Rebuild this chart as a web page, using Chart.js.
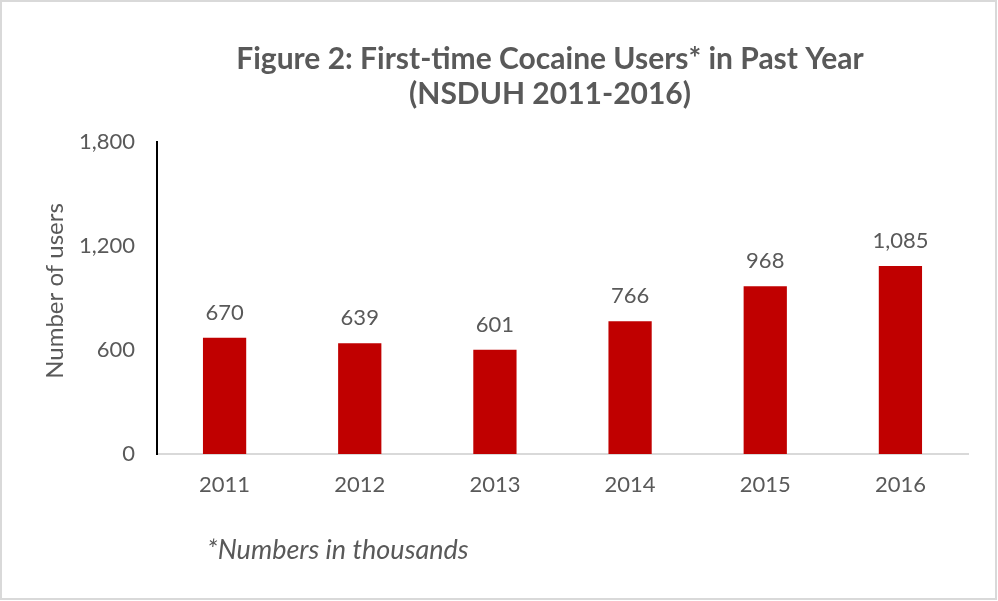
<!DOCTYPE html>
<html>
<head>
<meta charset="utf-8">
<script src="https://cdn.jsdelivr.net/npm/chart.js@4"></script>
<style>
  html, body { margin: 0; padding: 0; background: #ffffff; }
  #wrap { width: 998px; height: 601px; position: relative; }
</style>
</head>
<body>
<div id="wrap"><canvas id="c" width="998" height="601"></canvas></div>
<script>
// Survey years and first-time cocaine users (thousands)
const years = ['2011', '2012', '2013', '2014', '2015', '2016'];
const users = [670, 639, 601, 766, 968, 1085];
const yTicks = [0, 600, 1200, 1800];

const titleLines = ['Figure 2: First-time Cocaine Users* in Past Year', '(NSDUH 2011-2016)'];
const yTitle = 'Number of users';
const footnote = '*Numbers in thousands';

const GRAY = '#595959';
const BAR = '#C00000';
const FONT = 'Lato, "Open Sans", sans-serif';

const fmt = v => v.toLocaleString('en-US');

const decor = {
  id: 'decor',
  beforeDraw(chart) {
    const ctx = chart.ctx;
    ctx.save();
    ctx.fillStyle = '#ffffff';
    ctx.fillRect(0, 0, chart.width, chart.height);
    ctx.strokeStyle = '#d9d9d9';
    ctx.lineWidth = 2;
    ctx.strokeRect(1, 1, chart.width - 3, chart.height - 3);
    ctx.restore();
  },
  afterDraw(chart) {
    const ctx = chart.ctx;
    ctx.save();
    // Title, two lines
    ctx.fillStyle = GRAY;
    ctx.textAlign = 'center';
    ctx.textBaseline = 'alphabetic';
    ctx.font = 'bold 30px ' + FONT;
    ctx.fillText(titleLines[0], 550, 69);
    ctx.fillText(titleLines[1], 550, 104);

    // Vertical axis title
    ctx.save();
    ctx.translate(63, 291);
    ctx.rotate(-Math.PI / 2);
    ctx.font = '24px ' + FONT;
    ctx.textAlign = 'center';
    ctx.textBaseline = 'alphabetic';
    ctx.fillText(yTitle, 0, 0);
    ctx.restore();

    // Footnote
    ctx.font = 'italic 27px ' + FONT;
    ctx.textAlign = 'left';
    ctx.fillText(footnote, 207, 559);

    // Value labels above bars
    const meta = chart.getDatasetMeta(0);
    ctx.font = '22px ' + FONT;
    ctx.fillStyle = GRAY;
    ctx.textAlign = 'center';
    meta.data.forEach((bar, i) => {
      const v = chart.data.datasets[0].data[i];
      ctx.fillText(fmt(v), bar.x, bar.y - 18);
    });
    ctx.restore();
  }
};

new Chart(document.getElementById('c'), {
  type: 'bar',
  data: {
    labels: years,
    datasets: [{
      data: users,
      backgroundColor: BAR,
      borderWidth: 0,
      categoryPercentage: 1,
      barPercentage: 0.32
    }]
  },
  options: {
    responsive: false,
    animation: false,
    devicePixelRatio: 1,
    layout: { padding: { top: 142, right: 30, left: 40, bottom: 47 } },
    plugins: {
      legend: { display: false },
      title: { display: false },
      tooltip: { enabled: false }
    },
    scales: {
      x: {
        grid: { display: false, drawTicks: false },
        border: { display: true, color: '#d9d9d9', width: 2 },
        ticks: { color: GRAY, font: { family: FONT, size: 22 }, padding: 18 },
        afterFit(scale) { scale.height = 100; }
      },
      y: {
        min: 0,
        max: 1800,
        afterBuildTicks(scale) { scale.ticks = yTicks.map(v => ({ value: v })); },
        grid: { display: false, drawTicks: false },
        border: { display: true, color: '#000000', width: 2 },
        ticks: {
          color: GRAY,
          font: { family: FONT, size: 22 },
          padding: 22,
          callback: v => fmt(v)
        },
        afterFit(scale) { scale.width = 117; }
      }
    }
  },
  plugins: [decor]
});
</script>
</body>
</html>
